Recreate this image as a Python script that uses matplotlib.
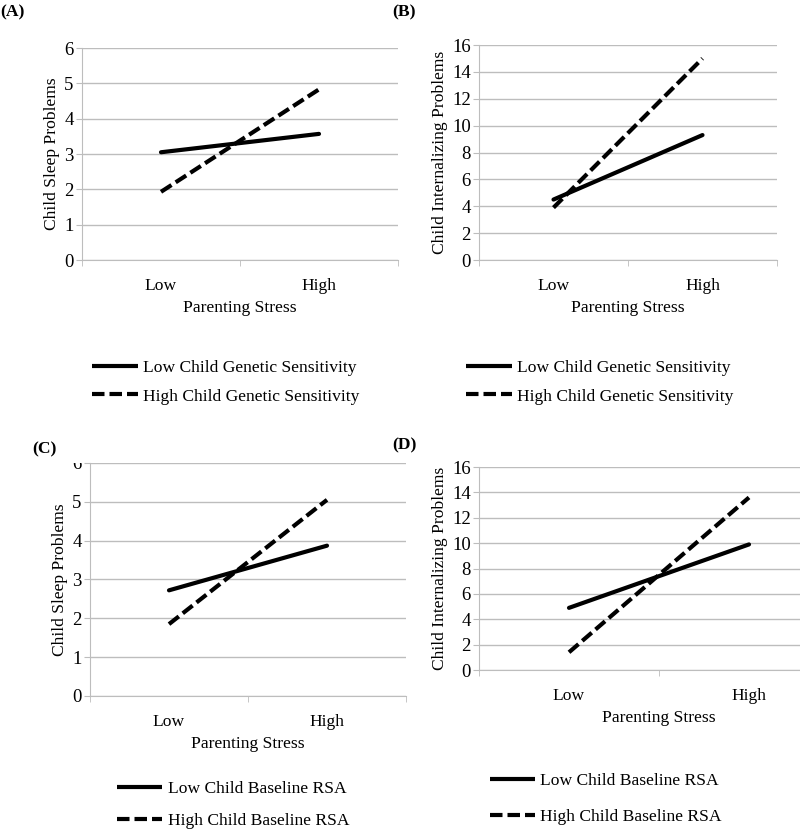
import numpy as np
import matplotlib
matplotlib.use("Agg")
import matplotlib.pyplot as plt
from matplotlib.lines import Line2D
from matplotlib.transforms import Bbox

plt.rcParams['font.family'] = ['Liberation Serif', 'DejaVu Serif']

# data
stress = ["Low", "High"]
a_low = [3.05, 3.57]     # Low Child Genetic Sensitivity
a_high = [1.93, 4.83]    # High Child Genetic Sensitivity
b_low = [4.5, 9.3]
b_high = [3.9, 15.0]
c_low = [2.72, 3.87]     # Low Child Baseline RSA
c_high = [1.85, 5.05]    # High Child Baseline RSA
d_low = [4.9, 9.9]
d_high = [1.4, 13.6]

sleep_ticks = [0, 1, 2, 3, 4, 5, 6]
intern_ticks = [0, 2, 4, 6, 8, 10, 12, 14, 16]

gene_labels = ["Low Child Genetic Sensitivity", "High Child Genetic Sensitivity"]
rsa_labels = ["Low Child Baseline RSA", "High Child Baseline RSA"]

fig = plt.figure(figsize=(8, 8.31), dpi=100)
grid_col = "#bdbdbd"
lw = 3.0
dash = (3, 1.2)
fs = 12.6
tfs = 13.5


def panel(rect, low, high, yticks, ylabel):
    ax = fig.add_axes(rect)
    x = np.arange(len(stress))
    ax.plot(x, low, color="black", lw=lw, solid_capstyle="round", zorder=3)
    ax.plot(x, high, color="black", lw=lw, dashes=dash, zorder=3)
    ax.set_xlim(-0.5, 1.5)
    ax.set_ylim(yticks[0], yticks[-1])
    ax.set_yticks(yticks)
    ax.set_xticks(x)
    ax.set_xticklabels(stress, fontsize=fs)
    ax.set_xticks([-0.5, 0.5, 1.5], minor=True)
    ax.tick_params(axis="x", which="major", length=0, pad=13)
    ax.tick_params(axis="x", which="minor", length=4, color=grid_col)
    ax.tick_params(axis="y", length=4, color=grid_col, labelsize=tfs, pad=2)
    ax.yaxis.grid(True, color=grid_col, lw=1)
    ax.set_axisbelow(True)
    for s in ["top", "right"]:
        ax.spines[s].set_visible(False)
    for s in ["left", "bottom"]:
        ax.spines[s].set_color(grid_col)
    ax.set_xlabel("Parenting Stress", fontsize=fs, labelpad=4)
    ax.set_ylabel(ylabel, fontsize=fs, labelpad=3)
    return ax


def legend(x0, ymid, labels, spacing):
    handles = [Line2D([], [], color="black", lw=lw, solid_capstyle="butt"),
               Line2D([], [], color="black", lw=lw, dashes=dash)]
    fig.legend(handles, labels, loc="center left", bbox_to_anchor=(x0, ymid),
               bbox_transform=fig.transFigure, frameon=False, fontsize=fs,
               handlelength=2.6, handletextpad=0.3, borderpad=0,
               borderaxespad=0, labelspacing=spacing)


panel([0.1025, 0.6871, 0.395, 0.2551], a_low, a_high, sleep_ticks, "Child Sleep Problems")
panel([0.59875, 0.6871, 0.3725, 0.2587], b_low, b_high, intern_ticks, "Child Internalizing Problems")
axc = panel([0.1125, 0.1625, 0.395, 0.2804], c_low, c_high, sleep_ticks, "Child Sleep Problems")
panel([0.59875, 0.1937, 0.45, 0.2443], d_low, d_high, intern_ticks, "Child Internalizing Problems")

# top tick label of panel C is cut off in the original
fig.canvas.draw()
top_lbl = axc.get_yticklabels()[-1]
cut_y = fig.transFigure.transform((0, 1 - 463 / 831))[1]
top_lbl.set_clip_box(Bbox([[0, 0], [800, cut_y]]))
top_lbl.set_clip_on(True)

legend(0.115, 1 - 382 / 831, gene_labels, 0.72)
legend(0.583, 1 - 382 / 831, gene_labels, 0.72)
legend(0.146, 1 - 805 / 831, rsa_labels, 0.9)
legend(0.612, 1 - 799 / 831, rsa_labels, 1.12)

fig.text(0.0, 1 - 12 / 831, "(A)", fontsize=fs, fontweight="bold", va="center")
fig.text(392 / 800, 1 - 12 / 831, "(B)", fontsize=fs, fontweight="bold", va="center")
fig.text(32 / 800, 1 - 449 / 831, "(C)", fontsize=fs, fontweight="bold", va="center")
fig.text(392 / 800, 1 - 445 / 831, "(D)", fontsize=fs, fontweight="bold", va="center")

fig.savefig("out.png", dpi=100)
